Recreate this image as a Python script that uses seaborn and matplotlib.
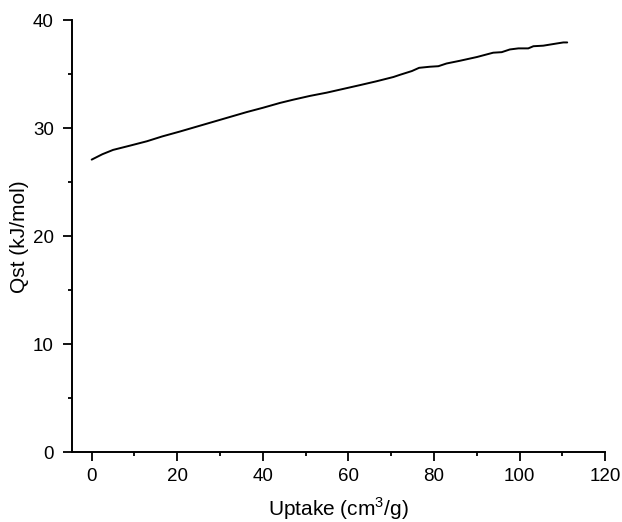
import matplotlib
matplotlib.use("Agg")
import matplotlib.pyplot as plt
from matplotlib.ticker import MultipleLocator
import seaborn as sns
import pandas as pd

uptake = [0, 2.5, 5, 9, 12.9, 16.5, 20.6, 24.5, 28.4, 32.3, 36.2, 40, 44, 47.1, 51, 54.9, 58.8, 62.7,
          66.5, 70.5, 72, 74.8, 76.5, 79, 81, 82.9, 86, 90, 93.8, 95.8, 97.7, 99.7, 102,
          103.2, 105.5, 108.6, 110.2, 111.1]
qst = [27.1, 27.6, 28.0, 28.4, 28.8, 29.25, 29.7, 30.15, 30.6, 31.05, 31.5, 31.9, 32.35, 32.65, 33.0, 33.3, 33.65, 34.0,
       34.35, 34.75, 34.95, 35.3, 35.6, 35.7, 35.75, 36.0, 36.25, 36.6, 37.0, 37.05, 37.3, 37.4, 37.4,
       37.6, 37.65, 37.85, 37.95, 37.95]

xticks = [0, 20, 40, 60, 80, 100, 120]
yticks = [0, 10, 20, 30, 40]

df = pd.DataFrame({"Uptake": uptake, "Qst": qst})

sns.set_style("ticks")
plt.rcParams["font.family"] = ["Liberation Sans", "DejaVu Sans"]
plt.rcParams["mathtext.fontset"] = "custom"
plt.rcParams["mathtext.rm"] = "Liberation Sans"
plt.rcParams["text.color"] = "black"
plt.rcParams["axes.labelcolor"] = "black"

fig = plt.figure(figsize=(6.22, 5.22), dpi=100)
ax = fig.add_axes([72 / 622, 1 - 452.3 / 522, (605.3 - 72) / 622, (452.3 - 20.3) / 522])

sns.lineplot(data=df, x="Uptake", y="Qst", ax=ax, color="black", linewidth=1.4, sort=False)

ax.set_xlim(-4.6, 120)
ax.set_ylim(0, 40)
ax.set_xticks(xticks)
ax.set_yticks(yticks)
ax.xaxis.set_minor_locator(MultipleLocator(10))
ax.yaxis.set_minor_locator(MultipleLocator(5))
ax.tick_params(axis="both", which="major", direction="out", length=6.5, width=1.3,
               labelsize=13.5, colors="black", labelcolor="black")
ax.tick_params(axis="both", which="minor", direction="out", length=3, width=1.3, colors="black")
ax.tick_params(axis="x", which="major", pad=5)
ax.tick_params(axis="y", which="major", pad=6.5)

sns.despine(ax=ax)
for s in ["left", "bottom"]:
    ax.spines[s].set_linewidth(1.4)
    ax.spines[s].set_color("black")

ax.set_xlabel("Uptake (cm$^3$/g)", fontsize=15, labelpad=7, color="black")
ax.set_ylabel("Qst (kJ/mol)", fontsize=15, labelpad=3, color="black")

fig.savefig("out.png", dpi=100)
